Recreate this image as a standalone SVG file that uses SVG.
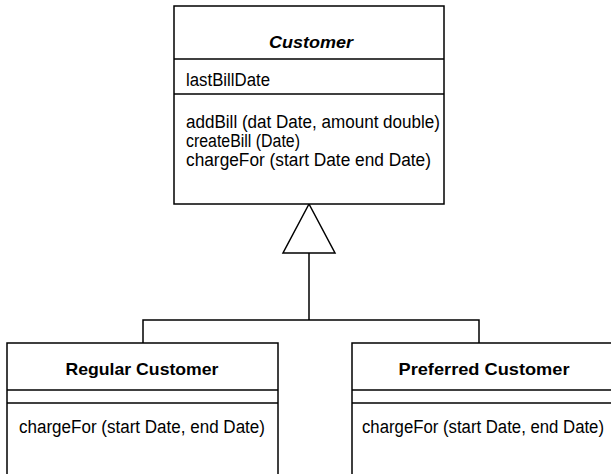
<svg xmlns="http://www.w3.org/2000/svg" width="611" height="474" viewBox="0 0 611 474">
<style>
.box{fill:#fff;stroke:#000;stroke-width:1.5}
.div{stroke:#000;stroke-width:1.5}
.conn{fill:none;stroke:#000;stroke-width:1.5}
.tri{fill:#fff;stroke:#000;stroke-width:1.5;stroke-linejoin:miter}
text{font-family:"Liberation Sans",Arial,sans-serif;fill:#000}
.title{font-size:17px;font-weight:bold;text-anchor:middle}
.abs{font-style:italic}
.member{font-size:18px}
</style>
<rect width="611" height="474" fill="#fff"/>
<g id="connectors">
<path class="conn" d="M309,253 V320 M143,343 V320 H479 V343"/>
<polygon class="tri" points="309,204 283,253 335,253"/>
</g>
<g id="customer">
<rect class="box" x="174" y="6" width="270" height="198"/>
<line class="div" x1="174" y1="59" x2="444" y2="59"/>
<line class="div" x1="174" y1="94" x2="444" y2="94"/>
<text class="title abs" x="311" y="48" textLength="84" lengthAdjust="spacingAndGlyphs">Customer</text>
<text class="member" x="186" y="86" textLength="84" lengthAdjust="spacingAndGlyphs">lastBillDate</text>
<text class="member" x="186" y="128" textLength="254" lengthAdjust="spacingAndGlyphs">addBill (dat Date, amount double)</text>
<text class="member" x="186" y="147" textLength="114" lengthAdjust="spacingAndGlyphs">createBill (Date)</text>
<text class="member" x="186" y="166" textLength="245" lengthAdjust="spacingAndGlyphs">chargeFor (start Date end Date)</text>
</g>
<g id="regular-customer">
<rect class="box" x="7" y="343" width="271" height="140"/>
<line class="div" x1="7" y1="390" x2="278" y2="390"/>
<line class="div" x1="7" y1="403" x2="278" y2="403"/>
<text class="title" x="142" y="375" textLength="153" lengthAdjust="spacingAndGlyphs">Regular Customer</text>
<text class="member" x="19" y="433" textLength="246" lengthAdjust="spacingAndGlyphs">chargeFor (start Date, end Date)</text>
</g>
<g id="preferred-customer">
<rect class="box" x="352" y="343" width="270" height="140"/>
<line class="div" x1="352" y1="390" x2="622" y2="390"/>
<line class="div" x1="352" y1="403" x2="622" y2="403"/>
<text class="title" x="484" y="375" textLength="171" lengthAdjust="spacingAndGlyphs">Preferred Customer</text>
<text class="member" x="362" y="433" textLength="242" lengthAdjust="spacingAndGlyphs">chargeFor (start Date, end Date)</text>
</g>
</svg>
